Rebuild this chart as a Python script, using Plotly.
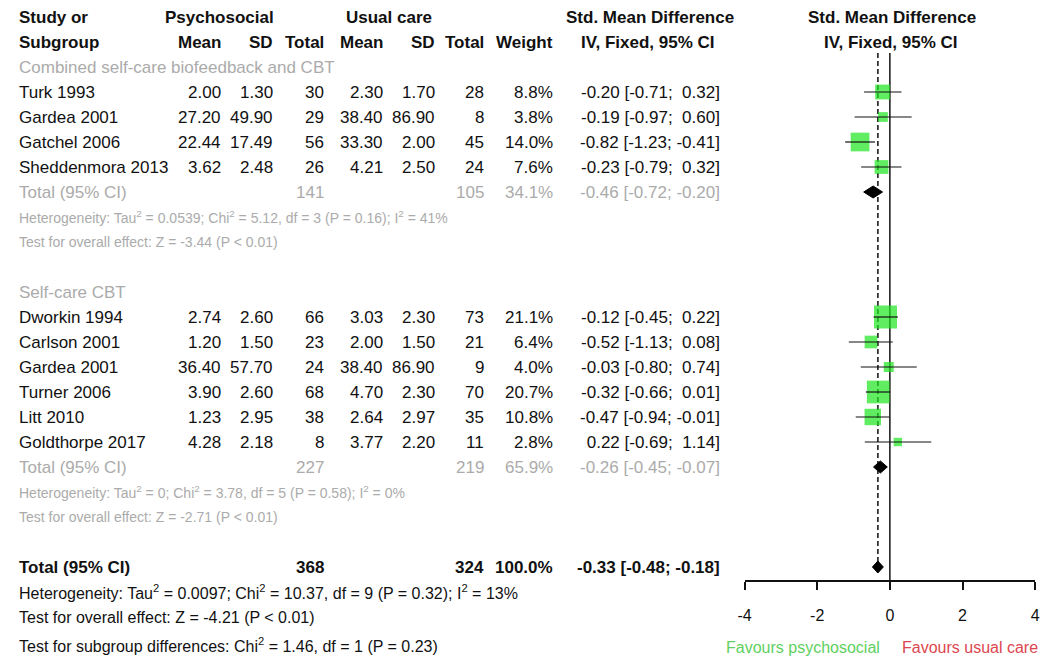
import plotly.graph_objects as go

# ---------------- data ----------------
study = ["Turk 1993", "Gardea 2001", "Gatchel 2006", "Sheddenmora 2013",
         "Dworkin 1994", "Carlson 2001", "Gardea 2001", "Turner 2006", "Litt 2010", "Goldthorpe 2017"]
group = [0, 0, 0, 0, 1, 1, 1, 1, 1, 1]
psy_mean = [2.00, 27.20, 22.44, 3.62, 2.74, 1.20, 36.40, 3.90, 1.23, 4.28]
psy_sd = [1.30, 49.90, 17.49, 2.48, 2.60, 1.50, 57.70, 2.60, 2.95, 2.18]
psy_n = [30, 29, 56, 26, 66, 23, 24, 68, 38, 8]
uc_mean = [2.30, 38.40, 33.30, 4.21, 3.03, 2.00, 38.40, 4.70, 2.64, 3.77]
uc_sd = [1.70, 86.90, 2.00, 2.50, 2.30, 1.50, 86.90, 2.30, 2.97, 2.20]
uc_n = [28, 8, 45, 24, 73, 21, 9, 70, 35, 11]
weight = [8.8, 3.8, 14.0, 7.6, 21.1, 6.4, 4.0, 20.7, 10.8, 2.8]
smd = [-0.20, -0.19, -0.82, -0.23, -0.12, -0.52, -0.03, -0.32, -0.47, 0.22]
ci_lo = [-0.71, -0.97, -1.23, -0.79, -0.45, -1.13, -0.80, -0.66, -0.94, -0.69]
ci_hi = [0.32, 0.60, -0.41, 0.32, 0.22, 0.08, 0.74, 0.01, -0.01, 1.14]

sub_name = ["Combined self-care biofeedback and CBT", "Self-care CBT"]
sub_psy_n = [141, 227]
sub_uc_n = [105, 219]
sub_weight = [34.1, 65.9]
sub_smd = [-0.46, -0.26]
sub_lo = [-0.72, -0.45]
sub_hi = [-0.20, -0.07]
sub_het = ["Heterogeneity: Tau<sup>2</sup> = 0.0539; Chi<sup>2</sup> = 5.12, df = 3 (P = 0.16); I<sup>2</sup> = 41%",
           "Heterogeneity: Tau<sup>2</sup> = 0; Chi<sup>2</sup> = 3.78, df = 5 (P = 0.58); I<sup>2</sup> = 0%"]
sub_test = ["Test for overall effect: Z = -3.44 (P &lt; 0.01)",
            "Test for overall effect: Z = -2.71 (P &lt; 0.01)"]

all_psy_n, all_uc_n, all_weight = 368, 324, 100.0
all_smd, all_lo, all_hi = -0.33, -0.48, -0.18
all_notes = ["Heterogeneity: Tau<sup>2</sup> = 0.0097; Chi<sup>2</sup> = 10.37, df = 9 (P = 0.32); I<sup>2</sup> = 13%",
             "Test for overall effect: Z = -4.21 (P &lt; 0.01)",
             "Test for subgroup differences: Chi<sup>2</sup> = 1.46, df = 1 (P = 0.23)"]

tick_vals = [-4, -2, 0, 2, 4]
tick_text = ["-4", "-2", "0", "2", "4"]

# ---------------- layout constants ----------------
W, H = 1057, 664
ROW0, STEP = 17, 25
FONT = "Liberation Sans, Arial, sans-serif"
BLACK, GREY = "#111111", "#ababab"
GREEN = "#1ee61e"
NB = "\u00a0"

# right edges of the numeric columns (px)
C_PM, C_PSD, C_PN = 218, 271, 323
C_UM, C_USD, C_UN = 382, 435, 484
C_W, C_CI = 554, 723
X_LEFT = 10


def row_y(k):
    return ROW0 + k * STEP


def f2(v):
    s = f"{v:.2f}"
    return NB * (5 - len(s)) + s


def ci_text(e, lo, hi):
    return f"{f2(e)} [{f2(lo)}; {f2(hi)}]"


ann = []


def txt(x, y, s, anchor="right", color=BLACK, size=17, bold=False):
    if bold:
        s = f"<b>{s}</b>"
    ann.append(dict(x=x / W, y=y, xref="paper", yref="y", text=s, showarrow=False,
                    xanchor=anchor, yanchor="middle",
                    font=dict(family=FONT, size=size, color=color)))


# ---------------- header ----------------
txt(X_LEFT, row_y(0), "Study or", "left", bold=True)
txt(X_LEFT, row_y(1), "Subgroup", "left", bold=True)
txt(215, row_y(0), "Psychosocial", "center", bold=True)
txt(386, row_y(0), "Usual care", "center", bold=True)
txt(650, row_y(0), "Std. Mean Difference", "center", bold=True)
txt(895, row_y(0), "Std. Mean Difference", "center", bold=True)
for x, s in [(C_PM, "Mean"), (C_PSD, "SD"), (C_PN, "Total"), (C_UM, "Mean"),
             (C_USD, "SD"), (C_UN, "Total"), (C_W, "Weight")]:
    txt(x, row_y(1), s, bold=True)
txt(648, row_y(1), "IV, Fixed, 95% CI", "center", bold=True)
txt(894, row_y(1), "IV, Fixed, 95% CI", "center", bold=True)

# ---------------- body rows ----------------
study_rows, sub_rows = [], []
k = 2
for g in range(len(sub_name)):
    txt(X_LEFT, row_y(k), sub_name[g], "left", color=GREY)
    k += 1
    for i in [j for j in range(len(study)) if group[j] == g]:
        y = row_y(k)
        study_rows.append(y)
        txt(X_LEFT, y, study[i], "left")
        txt(C_PM, y, f"{psy_mean[i]:.2f}")
        txt(C_PSD, y, f"{psy_sd[i]:.2f}")
        txt(C_PN, y, str(psy_n[i]))
        txt(C_UM, y, f"{uc_mean[i]:.2f}")
        txt(C_USD, y, f"{uc_sd[i]:.2f}")
        txt(C_UN, y, str(uc_n[i]))
        txt(C_W, y, f"{weight[i]:.1f}%")
        txt(C_CI, y, ci_text(smd[i], ci_lo[i], ci_hi[i]))
        k += 1
    y = row_y(k)
    sub_rows.append(y)
    txt(X_LEFT, y, "Total (95% CI)", "left", color=GREY)
    txt(C_PN, y, str(sub_psy_n[g]), color=GREY)
    txt(C_UN, y, str(sub_uc_n[g]), color=GREY)
    txt(C_W, y, f"{sub_weight[g]:.1f}%", color=GREY)
    txt(C_CI, y, ci_text(sub_smd[g], sub_lo[g], sub_hi[g]), color=GREY)
    txt(X_LEFT, row_y(k + 1), sub_het[g], "left", color=GREY, size=14)
    txt(X_LEFT, row_y(k + 2), sub_test[g], "left", color=GREY, size=14)
    k += 4

# overall
y_all = row_y(k)
txt(X_LEFT, y_all, "Total (95% CI)", "left", bold=True)
txt(C_PN, y_all, str(all_psy_n), bold=True)
txt(C_UN, y_all, str(all_uc_n), bold=True)
txt(C_W, y_all, f"{all_weight:.1f}%", bold=True)
txt(C_CI, y_all, ci_text(all_smd, all_lo, all_hi), bold=True)
for j, s in enumerate(all_notes):
    txt(X_LEFT, y_all + 25 + j * 25 + (3 if j == 2 else 0), s, "left", size=16)

txt(885, 647, "Favours psychosocial", "right", color="#5fd05f", size=16)
txt(903, 647, "Favours usual care", "left", color="#dc4650", size=16)

# ---------------- forest panel ----------------
fig = go.Figure()
AX_Y = 581
TOP = 53

# reference lines
fig.add_trace(go.Scatter(x=[0, 0], y=[TOP, AX_Y], mode="lines",
                         line=dict(color="#222222", width=1.6), hoverinfo="skip"))
fig.add_trace(go.Scatter(x=[all_smd, all_smd], y=[TOP, y_all], mode="lines",
                         line=dict(color="#333333", width=1.8, dash="5px,3px"), hoverinfo="skip"))

# study squares (area proportional to weight)
fig.add_trace(go.Scatter(x=smd, y=study_rows, mode="markers",
                         marker=dict(symbol="square", color=GREEN,
                                     size=[5.0 * w ** 0.5 for w in weight], line=dict(width=0)),
                         hoverinfo="skip"))

# confidence intervals
cx, cy = [], []
for lo, hi, y in zip(ci_lo, ci_hi, study_rows):
    cx += [lo, hi, None]
    cy += [y, y, None]
fig.add_trace(go.Scatter(x=cx, y=cy, mode="lines", line=dict(color="#111111", width=1.2),
                         hoverinfo="skip"))

# summary diamonds
HD = 6
for e, lo, hi, y in list(zip(sub_smd, sub_lo, sub_hi, sub_rows)) + [(all_smd, all_lo, all_hi, y_all)]:
    fig.add_trace(go.Scatter(x=[lo, e, hi, e, lo], y=[y, y - HD, y, y + HD, y],
                             mode="lines", fill="toself", fillcolor="#000000",
                             line=dict(color="#000000", width=1), hoverinfo="skip"))

fig.update_layout(
    width=W, height=H, margin=dict(l=0, r=0, t=0, b=0),
    paper_bgcolor="white", plot_bgcolor="white", showlegend=False,
    annotations=ann,
    xaxis=dict(domain=[746 / W, 1040 / W], range=[-4, 4], showgrid=False, zeroline=False,
               showline=True, linecolor="#111111", linewidth=1.8,
               ticks="outside", ticklen=8, tickwidth=1.6, tickcolor="#111111",
               tickvals=tick_vals, ticktext=tick_text,
               tickfont=dict(family=FONT, size=16, color=BLACK),
               anchor="free", position=(H - AX_Y) / H, ticklabelstandoff=12),
    yaxis=dict(range=[H, 0], domain=[0, 1], visible=False),
)

fig.write_html("out.html")
